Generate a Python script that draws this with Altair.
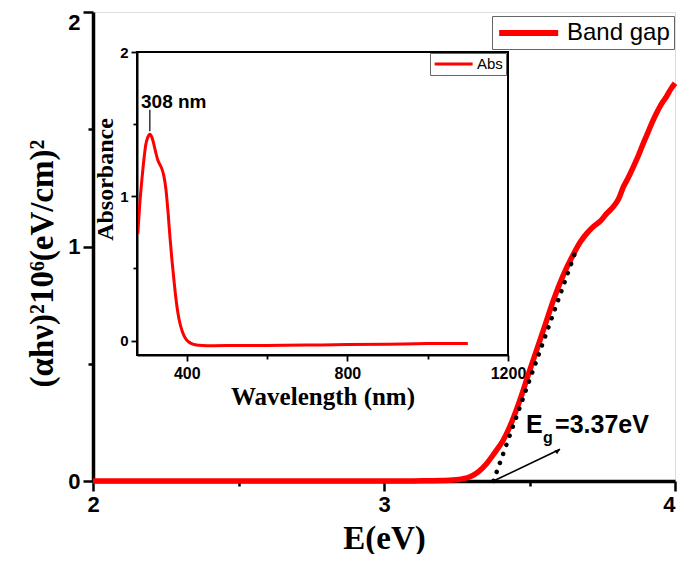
import altair as alt
import pandas as pd

# ---------------- data ----------------
# main curve: (alpha h nu)^2 vs photon energy
energy = [2.0, 2.5, 3.0, 3.1, 3.15, 3.2, 3.238, 3.27, 3.296, 3.325, 3.353, 3.38,
          3.41, 3.44, 3.467, 3.495, 3.525, 3.555, 3.582, 3.615, 3.65, 3.675,
          3.697, 3.72, 3.745, 3.765, 3.785, 3.805, 3.823, 3.84, 3.857, 3.875,
          3.891, 3.905, 3.92, 3.935, 3.948, 3.96, 3.971, 3.985, 4.0]
alpha_hv2 = [0, 0, 0, 0, 0.001, 0.002, 0.004, 0.009, 0.018, 0.04, 0.075, 0.12,
             0.175, 0.255, 0.345, 0.45, 0.56, 0.67, 0.77, 0.875, 0.965, 1.02,
             1.056, 1.085, 1.11, 1.14, 1.165, 1.20, 1.255, 1.295, 1.34, 1.39,
             1.44, 1.48, 1.525, 1.565, 1.596, 1.62, 1.64, 1.67, 1.696]

# linear fit (Tauc extrapolation)
fit_energy = [3.376, 3.654]
fit_value = [0.0, 0.964]

# arrow pointing to the intercept label
arrow_start = [3.376, 0.0]
arrow_end = [3.605, 0.135]

# inset: absorbance spectrum
wavelength = [278, 283, 288, 293, 298, 303, 308, 313, 318, 323, 328, 333, 338,
              343, 348, 353, 358, 363, 368, 373, 378, 383, 388, 393, 398, 405,
              415, 430, 450, 500, 600, 700, 800, 900, 1000, 1100]
absorbance = [0.74, 0.95, 1.11, 1.25, 1.36, 1.41, 1.43, 1.41, 1.36, 1.30, 1.25,
              1.22, 1.19, 1.14, 1.05, 0.90, 0.72, 0.56, 0.42, 0.29, 0.19, 0.12,
              0.07, 0.035, 0.01, -0.01, -0.025, -0.033, -0.036, -0.035, -0.034,
              -0.031, -0.028, -0.025, -0.021, -0.02]

peak_wavelength = 308
peak_label = "308 nm"

MAIN_X_DOMAIN = [2, 4]
MAIN_Y_DOMAIN = [0, 2]
INSET_X_DOMAIN = [276, 1200]
INSET_Y_DOMAIN = [-0.1, 2]

SANS = "Liberation Sans"
SERIF = "Liberation Serif"
RED = "#ff0000"
LINE_SYMBOL = "M-1,0H5"   # legend line symbol, 3x as wide as the nominal symbol size

main_df = pd.DataFrame({"E": energy, "Y": alpha_hv2, "series": "Band gap"})
fit_df = pd.DataFrame({"E": fit_energy, "Y": fit_value})
arrow_df = pd.DataFrame({"x0": [arrow_start[0]], "y0": [arrow_start[1]],
                         "x1": [arrow_end[0]], "y1": [arrow_end[1]]})
inset_df = pd.DataFrame({"wl": wavelength, "A": absorbance, "series": "Abs"})

INT_LABEL = "datum.value % 1 === 0 ? '' + datum.value : ''"

# ---------------- main panel ----------------
main_x = alt.X("E:Q",
               scale=alt.Scale(domain=MAIN_X_DOMAIN, nice=False, zero=False),
               axis=alt.Axis(title="E(eV)", values=[2, 2.5, 3, 3.5, 4],
                             labelExpr=INT_LABEL,
                             labelAlign={"condition": {"test": "datum.value === 4", "value": "right"}, "value": "center"},
                             tickSize={"condition": {"test": "datum.value % 1 !== 0", "value": 5}, "value": 10},
                             tickWidth=2.5, tickColor="black",
                             domainColor="black", domainWidth=3.5,
                             labelFont=SANS, labelFontSize=22, labelFontWeight="bold",
                             labelColor="black", labelPadding=3,
                             labelFlush=False, labelOverlap=False, grid=False,
                             titleFont=SERIF, titleFontSize=33, titleFontWeight="bold",
                             titleColor="black", titleY=67, titleBaseline="alphabetic"))
main_y = alt.Y("Y:Q",
               scale=alt.Scale(domain=MAIN_Y_DOMAIN, nice=False, zero=False),
               axis=alt.Axis(title="(αhν)²10⁶(eV/cm)²", values=[0, 0.5, 1, 1.5, 2],
                             labelExpr=INT_LABEL,
                             labelBaseline={"condition": {"test": "datum.value === 2", "value": "top"}, "value": "middle"},
                             tickSize={"condition": {"test": "datum.value % 1 !== 0", "value": 5}, "value": 10},
                             tickWidth=2.5, tickColor="black",
                             domainColor="black", domainWidth=3.5,
                             labelFont=SANS, labelFontSize=22, labelFontWeight="bold",
                             labelColor="black", labelPadding=3,
                             labelFlush=False, labelOverlap=False, grid=False,
                             titleFont=SERIF, titleFontSize=33, titleFontWeight="bold",
                             titleColor="black", titleAngle=270, titleX=-41, titleY=251,
                             titleBaseline="alphabetic", titleAlign="center"))

main_line = alt.Chart(main_df).mark_line(strokeWidth=5.5, interpolate="monotone").encode(
    x=main_x, y=main_y,
    color=alt.Color("series:N",
                    scale=alt.Scale(domain=["Band gap"], range=[RED]),
                    legend=alt.Legend(title=None, orient="none", legendX=399, legendY=4,
                                      strokeColor="#666666", fillColor="white",
                                      padding=4, symbolType=LINE_SYMBOL, symbolSize=387,
                                      symbolStrokeWidth=6, labelFont=SANS,
                                      labelFontSize=24, labelColor="black",
                                      labelOffset=45)))

fit_line = alt.Chart(fit_df).mark_line(color="black", strokeWidth=4.5,
                                       strokeDash=[0.1, 9.5], strokeCap="round").encode(
    x="E:Q", y="Y:Q")

arrow_line = alt.Chart(arrow_df).mark_rule(color="black", strokeWidth=1.6).encode(
    x="x0:Q", y="y0:Q", x2="x1:Q", y2="y1:Q")
arrow_head = alt.Chart(arrow_df).mark_point(
    shape="M0,0L0.45,1L-0.45,1Z", filled=True, color="black", opacity=1,
    size=110, angle=55).encode(x="x1:Q", y="y1:Q")

eg_E = alt.Chart(pd.DataFrame({"x": [3.488], "y": [0.203], "t": ["E"]})).mark_text(
    align="left", baseline="alphabetic", font=SANS, fontSize=25, fontWeight="bold",
    color="black").encode(x="x:Q", y="y:Q", text="t:N")
eg_g = alt.Chart(pd.DataFrame({"x": [3.546], "y": [0.163], "t": ["g"]})).mark_text(
    align="left", baseline="alphabetic", font=SANS, fontSize=16, fontWeight="bold",
    color="black").encode(x="x:Q", y="y:Q", text="t:N")
eg_val = alt.Chart(pd.DataFrame({"x": [3.588], "y": [0.203], "t": ["=3.37eV"]})).mark_text(
    align="left", baseline="alphabetic", font=SANS, fontSize=25, fontWeight="bold",
    color="black").encode(x="x:Q", y="y:Q", text="t:N")

main_group = alt.layer(main_line, fit_line, arrow_line, arrow_head, eg_E, eg_g, eg_val)

# ---------------- inset ----------------
inset_x = alt.X("wl:Q",
                scale=alt.Scale(domain=INSET_X_DOMAIN, range=[44, 415], nice=False, zero=False),
                axis=alt.Axis(orient="bottom", offset=-126, title="Wavelength (nm)",
                              values=[400, 600, 800, 1000, 1200],
                              labelExpr="datum.value % 400 === 0 ? '' + datum.value : ''",
                              tickSize={"condition": {"test": "datum.value % 400 !== 0", "value": 4}, "value": 6},
                              tickWidth=1.8, tickColor="black",
                              domainColor="black", domainWidth=2,
                              labelFont=SANS, labelFontSize=16, labelFontWeight="bold",
                              labelColor="black", labelPadding=4,
                              labelFlush=False, labelOverlap=False, grid=False,
                              titleFont=SERIF, titleFontSize=25, titleFontWeight="bold",
                              titleColor="black", titleY=49, titleBaseline="alphabetic"))
inset_y = alt.Y("A:Q",
                scale=alt.Scale(domain=INSET_Y_DOMAIN, range=[343, 40], nice=False, zero=False),
                axis=alt.Axis(orient="left", offset=-44, title="Absorbance",
                              values=[0, 0.5, 1, 1.5, 2],
                              labelExpr=INT_LABEL,
                              tickSize={"condition": {"test": "datum.value % 1 !== 0", "value": 4}, "value": 6},
                              tickWidth=1.8, tickColor="black",
                              domainColor="black", domainWidth=2,
                              labelFont=SANS, labelFontSize=15, labelFontWeight="bold",
                              labelColor="black", labelPadding=3,
                              labelFlush=False, labelOverlap=False, grid=False,
                              titleFont=SERIF, titleFontSize=24, titleFontWeight="bold",
                              titleColor="black", titleAngle=270, titleX=-25, titleY=167,
                              titleBaseline="alphabetic", titleAlign="center"))

inset_line = alt.Chart(inset_df).mark_line(strokeWidth=3, interpolate="monotone").encode(
    x=inset_x, y=inset_y,
    color=alt.Color("series:N",
                    scale=alt.Scale(domain=["Abs"], range=[RED]),
                    legend=alt.Legend(title=None, orient="none", legendX=337, legendY=41,
                                      strokeColor="#666666", fillColor="white",
                                      padding=3, symbolType=LINE_SYMBOL, symbolSize=160,
                                      symbolStrokeWidth=3, labelFont=SANS,
                                      labelFontSize=15, labelColor="black",
                                      labelOffset=28)))

inset_frame = alt.Chart(pd.DataFrame({"x0": [INSET_X_DOMAIN[0]], "x1": [INSET_X_DOMAIN[1]],
                                      "y0": [INSET_Y_DOMAIN[0]], "y1": [INSET_Y_DOMAIN[1]]})).mark_rect(
    fill=None, stroke="black", strokeWidth=2).encode(x="x0:Q", x2="x1:Q", y="y0:Q", y2="y1:Q")

peak_rule = alt.Chart(pd.DataFrame({"x": [peak_wavelength], "y0": [1.45], "y1": [1.60]})).mark_rule(
    color="black", strokeWidth=1.2).encode(x="x:Q", y="y0:Q", y2="y1:Q")
peak_text = alt.Chart(pd.DataFrame({"x": [286], "y": [1.61], "t": [peak_label]})).mark_text(
    align="left", baseline="alphabetic", font=SANS, fontSize=19, fontWeight="bold",
    color="black").encode(x="x:Q", y="y:Q", text="t:N")

inset_group = alt.layer(inset_line, inset_frame, peak_rule, peak_text)

chart = alt.layer(main_group, inset_group).resolve_scale(
    x="independent", y="independent", color="independent"
).resolve_legend(color="independent").properties(
    width=582, height=469,
    autosize=alt.AutoSizeParams(type="none"),
    padding={"left": 85, "top": 4, "right": 2, "bottom": 73},
).configure_view(stroke="black", strokeWidth=3.5).configure(background="white")

chart.save("out.html", embed_options={"renderer": "svg", "actions": False})
